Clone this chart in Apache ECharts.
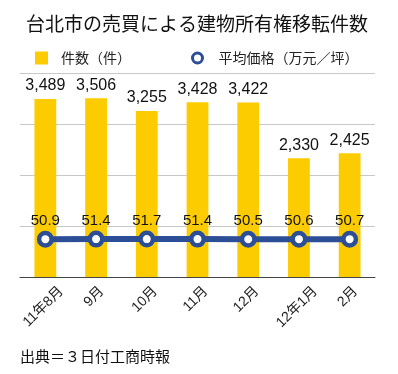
<!DOCTYPE html>
<html><head><meta charset="utf-8">
<script src="https://cdn.jsdelivr.net/npm/echarts@6/dist/echarts.min.js"></script>
<style>html,body{margin:0;padding:0;background:#fff}#c{width:398px;height:374px}</style>
</head><body><div id="c"></div>
<script>
const categories = ['11年8月','9月','10月','11月','12月','12年1月','2月'];
const counts = [3489, 3506, 3255, 3428, 3422, 2330, 2425];
const prices = [50.9, 51.4, 51.7, 51.4, 50.5, 50.6, 50.7];
const countTicks = [0, 1000, 2000, 3000, 4000];
const CJK = '"Noto Sans CJK JP", sans-serif';
const F = '"Liberation Sans", "Noto Sans CJK JP", sans-serif';
const LABEL_SIZE = 14;

// measure label lengths so that rotated labels hang centred under their tick
const ctx = document.createElement('canvas').getContext('2d');
ctx.font = LABEL_SIZE + 'px ' + F;
const GAP = 12, SX = -2, H = 14;
const axisData = categories.map(c => {
  const L = ctx.measureText(c).width;
  const D = 0.3536 * L + GAP;
  const pr = 1.4142 * (D - SX);
  const pt = Math.max(0, 0.7071 * (D + SX) - H / 2);
  return { value: c, textStyle: { align: 'center', verticalAlign: 'top', padding: [pt, pr, 0, 0] } };
});

const chart = echarts.init(document.getElementById('c'));
chart.setOption({
  animation: false,
  textStyle: { fontFamily: F },
  title: { text: '台北市の売買による建物所有権移転件数', left: 21, top: 9,
    textStyle: { fontSize: 19, fontWeight: 'normal', color: '#111', fontFamily: CJK } },
  legend: [
    { top: 46, left: 30, itemWidth: 13, itemHeight: 13,
      textStyle: { fontSize: 14, color: '#222', fontFamily: CJK, padding: [0, 0, 0, 8] },
      data: [{ name: '件数（件）', icon: 'rect' }] },
    { top: 46, left: 186, itemWidth: 10, itemHeight: 10,
      textStyle: { fontSize: 14, color: '#222', fontFamily: CJK, padding: [0, 0, 0, 11] },
      data: [{ name: '平均価格（万元／坪）', icon: 'circle',
        itemStyle: { color: '#fff', borderColor: '#2c4e96', borderWidth: 3 } }] }
  ],
  grid: { left: 20, right: 23, top: 73, bottom: 97, containLabel: false, outerBoundsMode: 'none' },
  xAxis: { type: 'category', data: axisData,
    axisLine: { lineStyle: { color: '#444', width: 1 } }, axisTick: { show: false },
    axisLabel: { rotate: 45, interval: 0, margin: 0,
      fontSize: LABEL_SIZE, color: '#222', fontFamily: F } },
  yAxis: [
    { type: 'value', min: countTicks[0], max: countTicks[countTicks.length-1], interval: 1000,
      axisLabel: { show: false }, axisLine: { show: false }, axisTick: { show: false },
      splitLine: { lineStyle: { color: '#c8c8c8' } } },
    { type: 'value', min: -320, max: 1680, show: false, splitLine: { show: false } }
  ],
  series: [
    { name: '件数（件）', type: 'bar', data: counts, barWidth: '43%', itemStyle: { color: '#fccc00' },
      label: { show: true, position: 'top', distance: 5, fontSize: 16, color: '#111', fontFamily: F,
        formatter: p => p.value.toLocaleString('en-US') } },
    { name: '平均価格（万元／坪）', type: 'line', yAxisIndex: 1, data: prices,
      symbol: 'circle', symbolSize: 12.5,
      lineStyle: { color: '#2c4e96', width: 6 },
      itemStyle: { color: '#fff', borderColor: '#2c4e96', borderWidth: 4.5 },
      label: { show: true, position: 'top', distance: 2, fontSize: 15, color: '#111', fontFamily: F } }
  ],
  graphic: [{ type: 'text', left: 20, top: 349,
    style: { text: '出典＝３日付工商時報', fontSize: 15, fill: '#111', fontFamily: CJK } }]
});
</script></body></html>
